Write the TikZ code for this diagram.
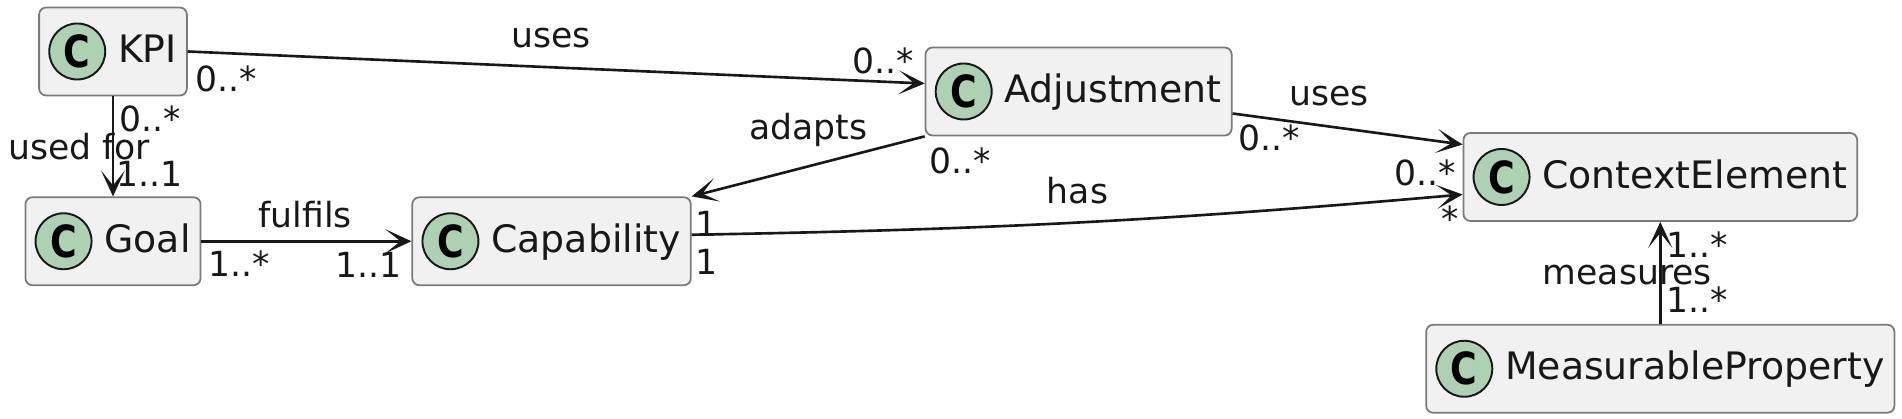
\documentclass[tikz,border=0pt]{standalone}
\usepackage{fontspec}
\setmainfont{DejaVu Sans}
\newfontfamily\badgefont{DejaVu Sans}[FakeStretch=0.82]
\usepackage{xcolor}
\definecolor{umlFill}{HTML}{F1F1F1}
\definecolor{umlBorder}{HTML}{7A7A7A}
\definecolor{umlBadge}{HTML}{ADD1B2}
\definecolor{umlInk}{HTML}{181818}
\usetikzlibrary{positioning,arrows.meta}

\begin{document}
\begin{tikzpicture}[
      cls/.style={rectangle, rounded corners=2pt, draw=umlBorder, line width=0.5pt,
                  fill=umlFill, minimum height=0.88cm, inner xsep=0pt, inner ysep=0pt,
                  text height=0.30cm, text depth=0.076cm, text=umlInk,
                  font=\fontsize{10.76pt}{13pt}\selectfont,
                  execute at begin node={\hspace*{0.79cm}},
                  execute at end node={\hspace*{0.10cm}}},
      badge/.style={circle, draw=umlInk, line width=0.55pt, fill=umlBadge,
                    minimum size=0.56cm, inner sep=0pt, text=black,
                    font=\badgefont\bfseries\fontsize{12.6pt}{13pt}\selectfont},
      lbl/.style={inner sep=0pt, text height=0.25cm, text depth=0.05cm, text=umlInk,
                  font=\fontsize{9.85pt}{12pt}\selectfont},
      assoc/.style={-{Stealth[length=0.26cm, width=0.24cm, inset=0.15cm]},
                    line width=0.75pt, umlInk}
    ]
    \useasboundingbox (0,0) rectangle (19.02,-4.19);

    \node[cls] (kpi) at (1.13,-0.515) {KPI};
    \node[cls, below=1.0cm of kpi] (goal) {Goal};
    \node[cls, right=2.1cm of goal] (cap) {Capability};
    \node[cls, above right=0.6cm and 2.33cm of cap] (adj) {Adjustment};
    \node[cls, right=2.3cm of adj, yshift=-0.855cm] (ctx) {ContextElement};
    \node[cls, below=1.02cm of ctx] (mp) {MeasurableProperty};

    \node[badge] (kpiC) at ([xshift=0.39cm]kpi.west) {C};
    \node[badge] (goalC) at ([xshift=0.39cm]goal.west) {C};
    \node[badge] (capC) at ([xshift=0.39cm]cap.west) {C};
    \node[badge] (adjC) at ([xshift=0.39cm]adj.west) {C};
    \node[badge] (ctxC) at ([xshift=0.39cm]ctx.west) {C};
    \node[badge] (mpC) at ([xshift=0.39cm]mp.west) {C};

    \draw[assoc] (kpi.east) -- node[lbl, pos=0.493, above=0.135cm]{uses}
        node[lbl, pos=0, below right=0.135cm and 0.06cm]{0..*}
        node[lbl, pos=1, above left=0.04cm and 0.1cm]{0..*} ([yshift=0.08cm]adj.west);
    \draw[assoc] (kpi.south) -- node[lbl, pos=0.25, right=0.05cm]{0..*}
        node[lbl, pos=0.53, xshift=-0.34cm]{used for}
        node[lbl, pos=0.8, right=0.02cm]{1..1} (goal.north);
    \draw[assoc] (goal.east) -- node[lbl, pos=0.495, above=0.07cm]{fulfils}
        node[lbl, pos=0, below right=0.085cm and 0.06cm]{1..*}
        node[lbl, pos=1, below left=0.095cm and 0.09cm]{1..1} (cap.west);
    \draw[assoc] (adj.south west) -- node[lbl, pos=0.5, above=0.21cm]{adapts}
        node[lbl, pos=0, below right=0.11cm and 0.03cm]{0..*}
        node[lbl, pos=1, below right=0.14cm and 0.02cm]{1} (cap.north east);
    \draw[assoc] ([yshift=-0.22cm]adj.east) -- node[lbl, pos=0.42, above=0.15cm]{uses}
        node[lbl, pos=0, below right=0.11cm and 0.05cm]{0..*}
        node[lbl, pos=1, below left=0.15cm and 0.05cm]{0..*} ([yshift=0.325cm]ctx.west);
    \draw[assoc] ([yshift=0.065cm]cap.east) to[bend right=2]
        node[lbl, pos=0.5, above=0.13cm]{has}
        node[lbl, pos=0, below right=0.13cm and 0.02cm]{1}
        node[lbl, pos=1, below left=0.11cm and 0.02cm]{*} ([yshift=-0.175cm]ctx.west);
    \draw[assoc] (mp.north) -- node[lbl, pos=0.21, right=0.05cm]{1..*}
        node[lbl, pos=0.485, xshift=-0.33cm]{measures}
        node[lbl, pos=0.75, right=0.05cm]{1..*} (ctx.south);
  \end{tikzpicture}
\end{document}
